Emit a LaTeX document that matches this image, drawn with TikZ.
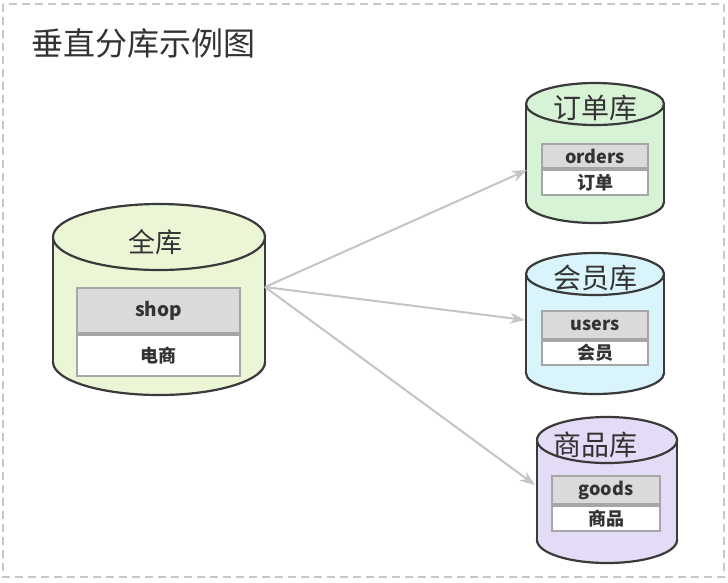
\documentclass[tikz,border=0pt]{standalone}
\usepackage{fontspec}
\setmainfont{Noto Sans CJK SC}
\usetikzlibrary{arrows.meta}
\definecolor{cgreen}{HTML}{EAF6D6}
\definecolor{cmint}{HTML}{D8F2D6}
\definecolor{ccyan}{HTML}{D9F5FB}
\definecolor{clav}{HTML}{E4DBF6}
\definecolor{hdr}{HTML}{DADADA}
\definecolor{tbord}{HTML}{A6A6A6}
\definecolor{arr}{HTML}{C4C4C4}
\definecolor{outl}{HTML}{3A3A3A}
\definecolor{txt}{HTML}{333333}
\tikzset{
  cylout/.style={draw=outl, line width=2.2pt},
  hdrcell/.style={draw=tbord, line width=1.8pt, fill=hdr, inner sep=0pt, font=\bfseries, text=txt},
  rowcell/.style={draw=tbord, line width=1.8pt, fill=white, inner sep=0pt, font=\bfseries, text=txt},
  cyllabel/.style={inner sep=0pt, text=txt},
  link/.style={draw=arr, line width=2pt, -{Stealth[length=15pt, width=11pt]}},
}
% #1 cx, #2 top centre y, #3 bottom centre y, #4 rx, #5 ry, #6 fill
\newcommand{\dbcylinder}[6]{%
  \filldraw[fill=#6, cylout] (#1,#3) ellipse [x radius=#4pt, y radius=#5pt];
  \fill[#6] ({#1-#4},#2) rectangle ({#1+#4},#3);
  \draw[cylout] ({#1-#4},#2) -- ({#1-#4},#3) ({#1+#4},#2) -- ({#1+#4},#3);
  \filldraw[fill=#6, cylout] (#1,#2) ellipse [x radius=#4pt, y radius=#5pt];
}
\begin{document}
\begin{tikzpicture}[x=1pt, y=-1pt]
\useasboundingbox (0,0) rectangle (728,582);
\fill[white] (0,0) rectangle (728,582);
\draw[draw=black!22, line width=1.5pt, dash pattern=on 8pt off 5pt] (3,4) rectangle (724,577);

\node[anchor=west, text=txt, font=\fontsize{32}{36}\selectfont, inner sep=0pt] (title) at (31,43) {垂直分库示例图};

% main db
\dbcylinder{159}{237}{362}{106}{33}{cgreen}
\node[cyllabel, font=\fontsize{27}{30}\selectfont] (allL) at (155,242) {全库};
\node[hdrcell, minimum width=163pt, minimum height=45pt, font=\bfseries\fontsize{19}{21}\selectfont] (shopH) at (158.5,310.5) {shop};
\node[rowcell, minimum width=163pt, minimum height=41pt, font=\bfseries\fontsize{18}{21}\selectfont, anchor=north] (shopR) at (shopH.south) {电商};
\coordinate (src) at (265,287);

% orders
\dbcylinder{595}{104}{202}{69}{21}{cmint}
\node[cyllabel, font=\fontsize{28}{30}\selectfont] (ordL) at (595,108) {订单库};
\node[hdrcell, minimum width=106pt, minimum height=24pt, font=\bfseries\fontsize{18}{20}\selectfont] (ordH) at (595,156) {orders};
\node[rowcell, minimum width=106pt, minimum height=25pt, font=\bfseries\fontsize{18}{20}\selectfont, anchor=north] (ordR) at (ordH.south) {订单};
\coordinate (ordIn) at (527,170);

% users
\dbcylinder{595}{274}{373}{69}{21}{ccyan}
\node[cyllabel, font=\fontsize{28}{30}\selectfont] (usrL) at (595,278) {会员库};
\node[hdrcell, minimum width=106pt, minimum height=28pt, font=\bfseries\fontsize{18}{20}\selectfont] (usrH) at (595,325) {users};
\node[rowcell, minimum width=106pt, minimum height=24pt, font=\bfseries\fontsize{18}{20}\selectfont, anchor=north] (usrR) at (usrH.south) {会员};
\coordinate (usrIn) at (525,320);

% goods
\dbcylinder{607}{440}{540}{70}{23}{clav}
\node[cyllabel, font=\fontsize{28}{30}\selectfont] (gdsL) at (595,445) {商品库};
\node[hdrcell, minimum width=108pt, minimum height=28pt, font=\bfseries\fontsize{18}{20}\selectfont] (gdsH) at (606,490) {goods};
\node[rowcell, minimum width=108pt, minimum height=25pt, font=\bfseries\fontsize{18}{20}\selectfont, anchor=north] (gdsR) at (gdsH.south) {商品};
\coordinate (gdsIn) at (535,485);

\draw[link] (src) -- (ordIn);
\draw[link] (src) -- (usrIn);
\draw[link] (src) -- (gdsIn);
\end{tikzpicture}
\end{document}
